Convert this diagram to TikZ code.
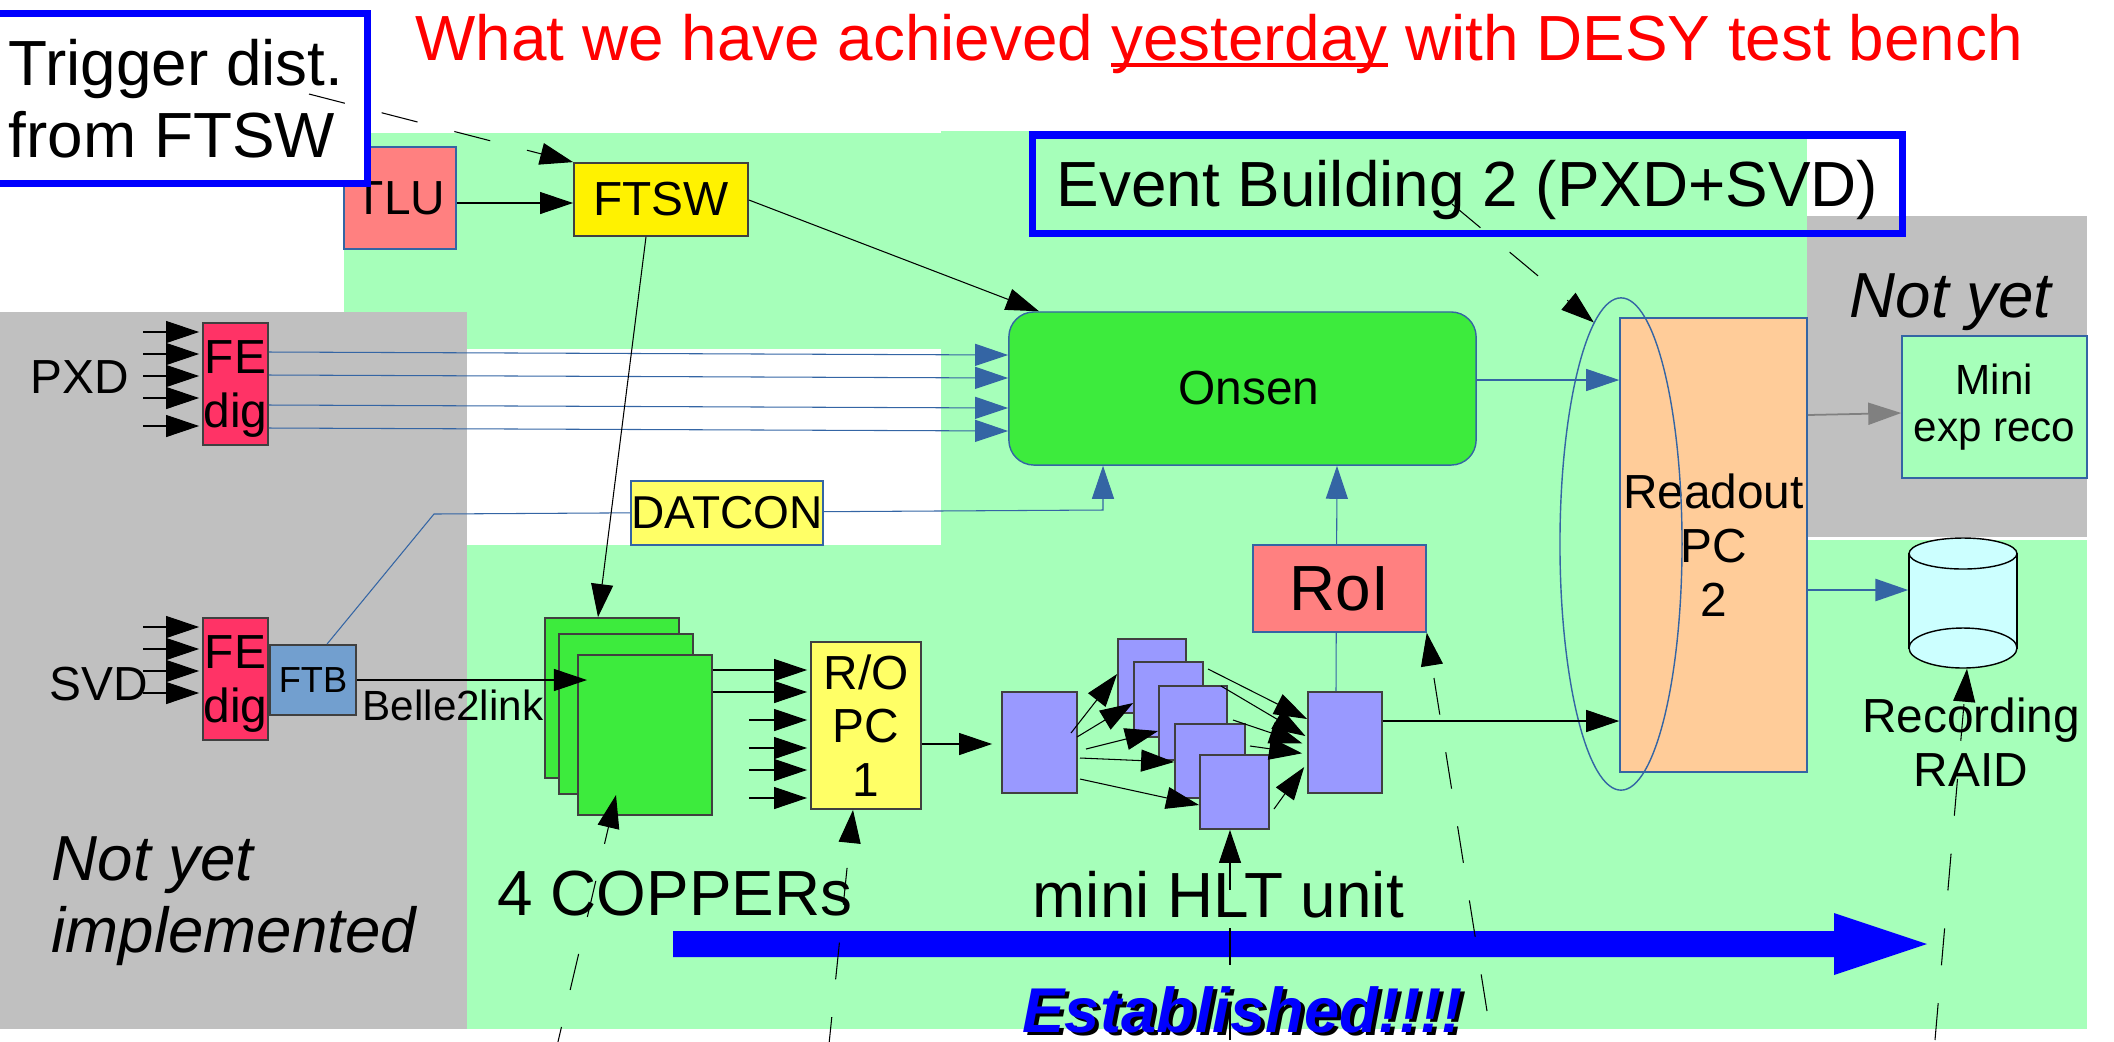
\documentclass[tikz,border=0pt]{standalone}
\usepackage{fontspec}
\setmainfont{Liberation Sans}
\usetikzlibrary{arrows.meta,shapes.geometric}

\definecolor{bggreen}{HTML}{A6FFBA}
\definecolor{bggray}{HTML}{C0C0C0}
\definecolor{linkblue}{HTML}{3465A4}
\definecolor{tlured}{HTML}{FF8080}
\definecolor{fepink}{HTML}{FF3366}
\definecolor{ftbblue}{HTML}{729FCF}
\definecolor{onsengreen}{HTML}{3DEB3D}
\definecolor{paleyellow}{HTML}{FFFF66}
\definecolor{hltblue}{HTML}{9999FF}
\definecolor{readoutorange}{HTML}{FFCC99}
\definecolor{raidcyan}{HTML}{CCFFFF}

\newcommand{\underword}[1]{\setbox0\hbox{#1}\rlap{\rule[-0.11em]{\wd0}{0.065em}}#1}

\tikzset{
  bigtext/.style={font=\fontsize{18.15}{20.5}\selectfont},
  bigitalic/.style={font=\fontsize{18.1}{20.5}\selectfont\itshape},
  midtext/.style={font=\fontsize{13.6}{15.3}\selectfont},
  smalltext/.style={font=\fontsize{12}{13.3}\selectfont},
  boxb/.style={draw=linkblue,line width=0.4pt,inner sep=0pt,align=center,midtext},
  boxk/.style={draw=black!75,line width=0.5pt,inner sep=0pt,align=center,midtext},
  framebox/.style={draw=blue,line width=2pt,inner sep=0pt},
  arr/.style={-{Triangle[length=0.33cm,width=0.22cm]},line width=0.3pt,black},
  arrb/.style={-{Triangle[length=0.33cm,width=0.22cm]},line width=0.3pt,linkblue},
  arrg/.style={-{Triangle[length=0.33cm,width=0.22cm]},line width=0.5pt,gray},
  dashedarr/.style={arr,dash pattern=on 0.37cm off 0.38cm},
}

\begin{document}
\begin{tikzpicture}[x=0.01cm,y=-0.01cm]
\useasboundingbox (0,0) rectangle (2114,1041);

%Backgrounds
\fill[bggreen] (344,133) rectangle (941,349);
\fill[bggreen] (941,131) rectangle (1807,546);
\fill[bggreen] (467,545) rectangle (2087,1029);
\fill[bggreen] (1807,540) rectangle (2087,600);
\fill[bggray] (0,312) rectangle (467,1029);
\fill[bggray] (1807,216) rectangle (2087,537);

%Title
\node[bigtext,anchor=base west,inner sep=0pt,red] (title) at (415,60) {What we have achieved \underword{yesterday} with DESY test bench};

%Top row
\node[boxb,fill=tlured,minimum width=1.12cm,minimum height=1.02cm] (tlu) at (400,198) {TLU};
\node[boxk,fill=yellow,minimum width=1.74cm,minimum height=0.73cm] (ftsw) at (661,199.5) {FTSW};
\draw[arr] (tlu.east |- 0,203) -- (ftsw.west |- 0,203);

\node[framebox,fill=white,minimum width=3.87cm,minimum height=1.69cm] (trigger) at (173.5,98.5) {};
\node[bigtext,anchor=base west,inner sep=0pt] (triggerlabel) at (8,85) {Trigger dist.};
\node[bigtext,anchor=base west,inner sep=0pt] (ftswlabel) at (8,157) {from FTSW};
\coordinate (triggerout) at (309,94);
\draw[dashedarr] (triggerout) -- (ftsw.north west);

%Onsen
\node[boxb,fill=onsengreen,rounded corners=0.25cm,minimum width=4.67cm,minimum height=1.53cm] (onsen) at (1242.5,388.5) {\hspace*{0.13cm}Onsen};
\draw[arr] (ftsw.east |- 0,200) -- (onsen.north -| 1039,0);

%PXD
\node[boxk,fill=fepink,text depth=0pt,minimum width=0.65cm,minimum height=1.22cm] (fepxd) at (235.5,384) {FE\\dig};
\node[midtext,anchor=base,inner sep=0pt] (pxdlabel) at (80,393) {PXD};
\coordinate (pxdin1) at (143,332);
\coordinate (pxdin2) at (143,354);
\coordinate (pxdin3) at (143,376);
\coordinate (pxdin4) at (143,398);
\coordinate (pxdin5) at (143,426);
\draw[arr,shorten >=0.03cm] (pxdin1) -- (fepxd.west |- pxdin1);
\draw[arr,shorten >=0.03cm] (pxdin2) -- (fepxd.west |- pxdin2);
\draw[arr,shorten >=0.03cm] (pxdin3) -- (fepxd.west |- pxdin3);
\draw[arr,shorten >=0.03cm] (pxdin4) -- (fepxd.west |- pxdin4);
\draw[arr,shorten >=0.03cm] (pxdin5) -- (fepxd.west |- pxdin5);

\draw[arrb] (fepxd.east |- 0,352) -- (onsen.west |- 0,355);
\draw[arrb] (fepxd.east |- 0,375) -- (onsen.west |- 0,378);
\draw[arrb] (fepxd.east |- 0,405) -- (onsen.west |- 0,408);
\draw[arrb] (fepxd.east |- 0,428) -- (onsen.west |- 0,431);

%SVD
\node[boxk,fill=fepink,text depth=0pt,minimum width=0.65cm,minimum height=1.22cm] (fesvd) at (235.5,679) {FE\\dig};
\node[boxk,fill=ftbblue,minimum width=0.86cm,minimum height=0.70cm,font=\fontsize{10.3}{12}\selectfont] (ftb) at (313,680) {FTB};
\node[midtext,anchor=base,inner sep=0pt] (svdlabel) at (99,700) {SVD};
\coordinate (svdin1) at (143,627);
\coordinate (svdin2) at (143,649);
\coordinate (svdin3) at (143,671);
\coordinate (svdin4) at (143,693);
\draw[arr,shorten >=0.03cm] (svdin1) -- (fesvd.west |- svdin1);
\draw[arr,shorten >=0.03cm] (svdin2) -- (fesvd.west |- svdin2);
\draw[arr,shorten >=0.03cm] (svdin3) -- (fesvd.west |- svdin3);
\draw[arr,shorten >=0.03cm] (svdin4) -- (fesvd.west |- svdin4);

%DATCON link, box goes on top of it
\coordinate (datconbend) at (434,514);
\coordinate (datconup) at (1103,510);
\draw[arrb] (ftb.north -| 327,0) -- (datconbend) -- (datconup) -- (onsen.south -| datconup);
\node[boxb,fill=paleyellow,minimum width=1.92cm,minimum height=0.64cm,font=\fontsize{13.1}{15}\selectfont] (datcon) at (727,513) {DATCON};

%COPPERs
\node[boxk,fill=onsengreen,minimum width=1.34cm,minimum height=1.60cm] (copperc) at (612,698) {};
\node[boxk,fill=onsengreen,minimum width=1.34cm,minimum height=1.60cm] (copperb) at (626,714) {};
\node[boxk,fill=onsengreen,minimum width=1.34cm,minimum height=1.60cm] (coppera) at (645,735) {};
\coordinate (copperin) at (587,680);
\draw[arr] (ftsw.south -| 646,0) -- (copperc.north -| 598,0);
\draw[arr] (ftb.east) -- (copperin);
\node[smalltext,anchor=base west,inner sep=0pt] (bellelabel) at (362,720) {Belle2link};
\node[bigtext,anchor=base west,inner sep=0pt] (copperlabel) at (497,915) {4 COPPERs};

%R/O PC 1
\node[boxk,fill=paleyellow,minimum width=1.10cm,minimum height=1.67cm] (ropc) at (866,725.5) {R/O\\PC\\1};
\coordinate (roin1) at (749,720);
\coordinate (roin2) at (749,748);
\coordinate (roin3) at (749,770);
\coordinate (roin4) at (749,798);
\draw[arr,shorten >=0.03cm] (coppera.east |- 0,670) -- (ropc.west |- 0,670);
\draw[arr,shorten >=0.03cm] (coppera.east |- 0,692) -- (ropc.west |- 0,692);
\draw[arr,shorten >=0.03cm] (roin1) -- (ropc.west |- roin1);
\draw[arr,shorten >=0.03cm] (roin2) -- (ropc.west |- roin2);
\draw[arr,shorten >=0.03cm] (roin3) -- (ropc.west |- roin3);
\draw[arr,shorten >=0.03cm] (roin4) -- (ropc.west |- roin4);

%mini HLT
\node[boxk,fill=hltblue,minimum width=0.75cm,minimum height=1.01cm] (hltin) at (1039.5,742.5) {};
\node[boxk,fill=hltblue,minimum width=0.74cm,minimum height=1.01cm] (hltout) at (1345,742.5) {};
\draw[arr,shorten >=0.09cm] (ropc.east |- 0,744) -- (hltin.west |- 0,744);
\node[boxk,fill=hltblue,minimum width=0.68cm,minimum height=0.74cm] (hlta) at (1152,676) {};
\node[boxk,fill=hltblue,minimum width=0.69cm,minimum height=0.75cm] (hltb) at (1168.5,699.5) {};
\node[boxk,fill=hltblue,minimum width=0.68cm,minimum height=0.74cm] (hltc) at (1193,723) {};
\node[boxk,fill=hltblue,minimum width=0.70cm,minimum height=0.74cm] (hltd) at (1210,761) {};
\node[boxk,fill=hltblue,minimum width=0.69cm,minimum height=0.74cm] (hlte) at (1234.5,792) {};

\coordinate (hltina) at (1071,733);
\coordinate (hltinb) at (1077,737);
\coordinate (hltinc) at (1086,749);
\coordinate (hltind) at (1080,758);
\coordinate (hltine) at (1080,779);
\draw[arr] (hltina) -- (hlta.west |- 0,674);
\draw[arr] (hltinb) -- (hltb.west |- 0,703);
\draw[arr] (hltinc) -- (hltc.west |- 0,731);
\draw[arr] (hltind) -- (hltd.west |- 0,762);
\draw[arr] (hltine) -- (hlte.west |- 0,805);

\coordinate (hltouta) at (1208,669);
\coordinate (hltoutb) at (1221,686);
\coordinate (hltoutc) at (1233,720);
\coordinate (hltoutd) at (1250,746);
\coordinate (hltoute) at (1274,809);
\draw[arr] (hltouta) -- (hltout.west |- 0,719);
\draw[arr,shorten >=0.02cm] (hltoutb) -- (hltout.west |- 0,737);
\draw[arr,shorten >=0.05cm] (hltoutc) -- (hltout.west |- 0,745);
\draw[arr,shorten >=0.05cm] (hltoutd) -- (hltout.west |- 0,754);
\draw[arr,shorten >=0.05cm] (hltoute) -- (hltout.west |- 0,763);
\node[bigtext,anchor=base west,inner sep=0pt] (hltlabel) at (1032,917) {mini HLT unit};

%RoI sits on the link up to Onsen
\draw[arrb] (hltout.north -| 1336,0) -- (onsen.south -| 1337,0);
\node[boxb,fill=tlured,bigtext,minimum width=1.73cm,minimum height=0.87cm] (roi) at (1339.5,588.5) {RoI};

%Readout PC 2
\node[boxb,fill=readoutorange,minimum width=1.87cm,minimum height=4.54cm] (readout) at (1713.5,545) {Readout\\PC\\2};
\node[draw=linkblue,line width=0.4pt,ellipse,inner sep=0pt,minimum width=1.22cm,minimum height=4.92cm] (ring) at (1621,544) {};
\draw[arrb] (onsen.east |- 0,380) -- (readout.west |- 0,380);
\draw[arr] (hltout.east |- 0,721) -- (readout.west |- 0,721);

%Not yet, right
\node[bigitalic,anchor=base west,inner sep=0pt] (notyetright) at (1849,317) {Not yet};
\node[boxb,fill=bggreen,smalltext,minimum width=1.85cm,minimum height=1.42cm] (mini) at (1994.5,407) {Mini\\exp reco};
\draw[arrg] (readout.east |- 0,415) -- (mini.west |- 0,413);

%RAID
\node[minimum width=1.08cm,minimum height=1.30cm,inner sep=0pt] (raid) at (1963,603) {};
\draw[fill=raidcyan,line width=0.4pt] (1909,553.5) rectangle (2017,648);
\draw[fill=raidcyan,line width=0.4pt] (1963,553.5) ellipse [x radius=54,y radius=15.5];
\draw[fill=raidcyan,line width=0.4pt] (1963,648) ellipse [x radius=54,y radius=20];
\draw[arrb,line width=0.8pt] (readout.east |- 0,590) -- (raid.west |- 0,590);
\node[midtext,anchor=base,inner sep=0pt] (recordlabel) at (1971,732) {Recording};
\node[midtext,anchor=base,inner sep=0pt] (raidlabel) at (1971,786) {RAID};

%Not yet, left
\node[bigitalic,anchor=base west,inner sep=0pt] (notyetleft) at (51,880) {Not yet};
\node[bigitalic,anchor=base west,inner sep=0pt] (implemented) at (51,952) {implemented};

%Big arrow
\fill[blue] (673,931) -- (1834,931) -- (1834,913) -- (1927,944) -- (1834,975) -- (1834,957) -- (673,957) -- cycle;
\node[anchor=base west,inner sep=0pt,black,font=\fontsize{18}{20}\selectfont\bfseries\itshape] (estshadow) at (1026,1035) {Established!!!!};
\node[anchor=base west,inner sep=0pt,blue,font=\fontsize{18}{20}\selectfont\bfseries\itshape] (established) at (1022,1032) {Established!!!!};

%Event building box
\node[framebox,minimum width=8.69cm,minimum height=0.98cm] (evb) at (1467.5,184) {};
\node[bigtext,anchor=base,inner sep=0pt] (evblabel) at (1467.5,206) {Event Building 2 (PXD+SVD)};
\coordinate (evbout) at (1452,204);
\draw[dashedarr] (evbout) -- (ring.97);

%Dashed pointers from the page bottom
\coordinate (copperfoot) at (553,1063);
\coordinate (copperhead) at (616,795);
\coordinate (ropcfoot) at (828,1054);
\coordinate (hltfoot) at (1230,1040);
\coordinate (roifoot) at (1487,1011);
\coordinate (raidfoot) at (1935,1040);
\draw[dashedarr] (copperfoot) -- (copperhead);
\draw[dashedarr] (ropcfoot) -- (ropc.south -| 853,0);
\draw[dashedarr] (hltfoot) -- (hlte.south -| 1230,0);
\draw[dashedarr] (roifoot) -- (roi.south east);
\draw[dashedarr] (raidfoot) -- (raid.south -| 1967,0);

\end{tikzpicture}
\end{document}
